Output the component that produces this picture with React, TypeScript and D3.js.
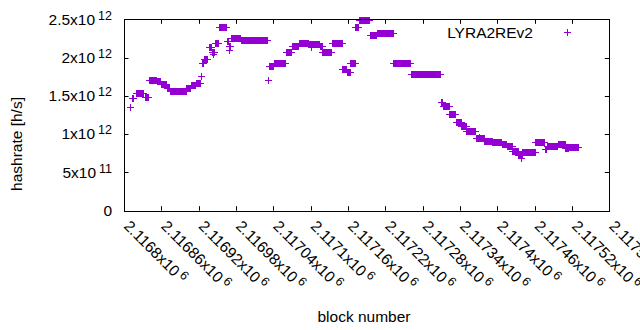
import React, { useEffect, useRef } from 'react'
import * as d3 from 'd3'

// hashrate is roughly constant over runs of blocks, so the series is kept run-length encoded:
// every block from runStart[i] to runEnd[i] has hashrate runRate[i] (x10^12 h/s)
const runStart = [
	2116810, 2116813, 2116819, 2116833, 2116840, 2116853, 2116859, 2116869, 2116874, 2116900,
	2116907, 2116915, 2116924, 2116925, 2116928, 2116936, 2116941, 2116946, 2116952, 2116965,
	2116968, 2116972, 2116988, 2117031, 2117033, 2117041, 2117060, 2117070, 2117081, 2117097,
	2117115, 2117119, 2117134, 2117151, 2117158, 2117164, 2117172, 2117177, 2117195, 2117206,
	2117233, 2117261, 2117309, 2117312, 2117323, 2117333, 2117342, 2117350, 2117365, 2117379,
	2117392, 2117407, 2117415, 2117424, 2117434, 2117440, 2117461, 2117476, 2117480, 2117497,
	2117509, 2117514,
]
const runEnd = [
	2116810, 2116814, 2116830, 2116839, 2116852, 2116858, 2116868, 2116873, 2116899, 2116906,
	2116914, 2116922, 2116924, 2116927, 2116933, 2116940, 2116945, 2116951, 2116964, 2116967,
	2116970, 2116987, 2117030, 2117031, 2117040, 2117059, 2117069, 2117080, 2117096, 2117114,
	2117118, 2117133, 2117150, 2117157, 2117163, 2117171, 2117176, 2117194, 2117205, 2117232,
	2117260, 2117308, 2117311, 2117322, 2117332, 2117341, 2117349, 2117364, 2117378, 2117391,
	2117406, 2117414, 2117423, 2117433, 2117439, 2117460, 2117475, 2117479, 2117496, 2117508,
	2117513, 2117529,
]
const runRate = [
	1.354, 1.471, 1.537, 1.488, 1.713, 1.693, 1.654, 1.602, 1.563, 1.602,
	1.641, 1.667, 1.758, 1.928, 1.98, 2.137, 2.072, 2.189, 2.398, 2.215,
	2.15, 2.254, 2.228, 1.706, 1.889, 1.928, 2.072, 2.15, 2.189, 2.176,
	2.15, 2.072, 2.189, 1.85, 1.811, 1.928, 2.398, 2.49, 2.294, 2.32,
	1.928, 1.785, 1.419, 1.367, 1.262, 1.158, 1.106, 1.041, 0.949, 0.91,
	0.897, 0.871, 0.845, 0.78, 0.728, 0.767, 0.897, 0.806, 0.845, 0.871,
	0.819, 0.832,
]
// a few single blocks off their run
const strayBlock = [2116943, 2117101, 2117438, 2116969, 2117370]
const strayRate = [2.046, 2.137, 0.689, 2.098, 0.962]

const xTicks = [
	2116800, 2116860, 2116920, 2116980, 2117040, 2117100, 2117160,
	2117220, 2117280, 2117340, 2117400, 2117460, 2117520, 2117580,
]
const yTicks = [0, 0.5e12, 1e12, 1.5e12, 2e12, 2.5e12]
const yTickMant = ['0', '5', '1', '1.5', '2', '2.5']
const yTickExp = ['', '11', '12', '12', '12', '12']

const seriesName = 'LYRA2REv2'
const color = '#9400d3'
const font = '"Liberation Sans", Arial, sans-serif'

const App = () => {
	const ref = useRef<SVGSVGElement>(null)

	useEffect(() => {
		const svg = d3.select(ref.current)
		svg.selectAll('*').remove()

		const left = 124, right = 609.3, top = 19.3, bottom = 210.7
		const x = d3.scaleLinear().domain([2116800, 2117580]).range([left, right])
		const y = d3.scaleLinear().domain([0, 2.5e12]).range([bottom, top])

		// decode runs into one point per block
		const points: [number, number][] = []
		runStart.forEach((s, i) => {
			for (let b = s; b <= runEnd[i]; b++) points.push([b, runRate[i] * 1e12])
		})
		strayBlock.forEach((b, i) => points.push([b, strayRate[i] * 1e12]))

		const px = (v: number) => Math.round(v) + 0.5
		const plus = (cx: number, cy: number) =>
			`M${cx - 3.5},${cy}h7M${cx},${cy - 3.5}v7`

		// ticks, mirrored on all four sides
		const tl = 4.5
		const ticks = svg.append('g').attr('stroke', '#000').attr('stroke-width', 1)
		xTicks.forEach(t => {
			const tx = px(x(t))
			ticks.append('path').attr('d', `M${tx},${bottom}v${-tl}M${tx},${top}v${tl}`)
		})
		yTicks.forEach(t => {
			const ty = px(y(t))
			ticks.append('path').attr('d', `M${left},${ty}h${tl}M${right},${ty}h${-tl}`)
		})

		// data
		svg.append('path')
			.attr('d', points.map(d => plus(px(x(d[0])), px(y(d[1])))).join(''))
			.attr('stroke', color)
			.attr('stroke-width', 1)
			.attr('fill', 'none')

		// border
		svg.append('rect')
			.attr('x', px(left)).attr('y', px(top))
			.attr('width', Math.round(right) - Math.round(left))
			.attr('height', Math.round(bottom) - Math.round(top))
			.attr('fill', 'none').attr('stroke', '#000')

		const txt = svg.append('g').attr('font-family', font).attr('font-size', 15.5).attr('fill', '#000')

		// y tick labels
		yTicks.forEach((t, i) => {
			const el = txt.append('text')
				.attr('x', 112)
				.attr('y', y(t) + 5.3)
				.attr('text-anchor', 'end')
			el.append('tspan').text(yTickMant[i] + (yTickExp[i] ? 'x10' : ''))
			if (yTickExp[i]) {
				el.append('tspan').attr('dx', 3).attr('dy', -5).attr('font-size', 12.5).text(yTickExp[i])
			}
		})

		// x tick labels, rotated
		xTicks.forEach(t => {
			const ax = x(t) - 1, ay = 227
			const el = txt.append('text')
				.attr('x', ax).attr('y', ay)
				.attr('transform', `rotate(45,${ax},${ay})`)
			el.append('tspan').text(`${+(t / 1e6).toFixed(5)}x10`)
			el.append('tspan').attr('dx', 3).attr('dy', -5).attr('font-size', 12.5).text('6')
		})

		// axis titles
		txt.append('text')
			.attr('x', 364).attr('y', 321.5)
			.attr('text-anchor', 'middle')
			.text('block number')
		txt.append('text')
			.attr('transform', 'translate(22,144) rotate(-90)')
			.attr('text-anchor', 'middle')
			.text('hashrate [h/s]')

		// legend
		txt.append('text')
			.attr('x', 533).attr('y', 37.5)
			.attr('text-anchor', 'end')
			.text(seriesName)
		svg.append('path')
			.attr('d', plus(567.5, 32.5))
			.attr('stroke', color)
			.attr('fill', 'none')
	}, [])

	return (
		<svg
			ref={ref}
			width={640}
			height={330}
			style={{ position: 'absolute', left: 0, top: 0, background: '#fff' }}
		></svg>
	)
}

export default App
